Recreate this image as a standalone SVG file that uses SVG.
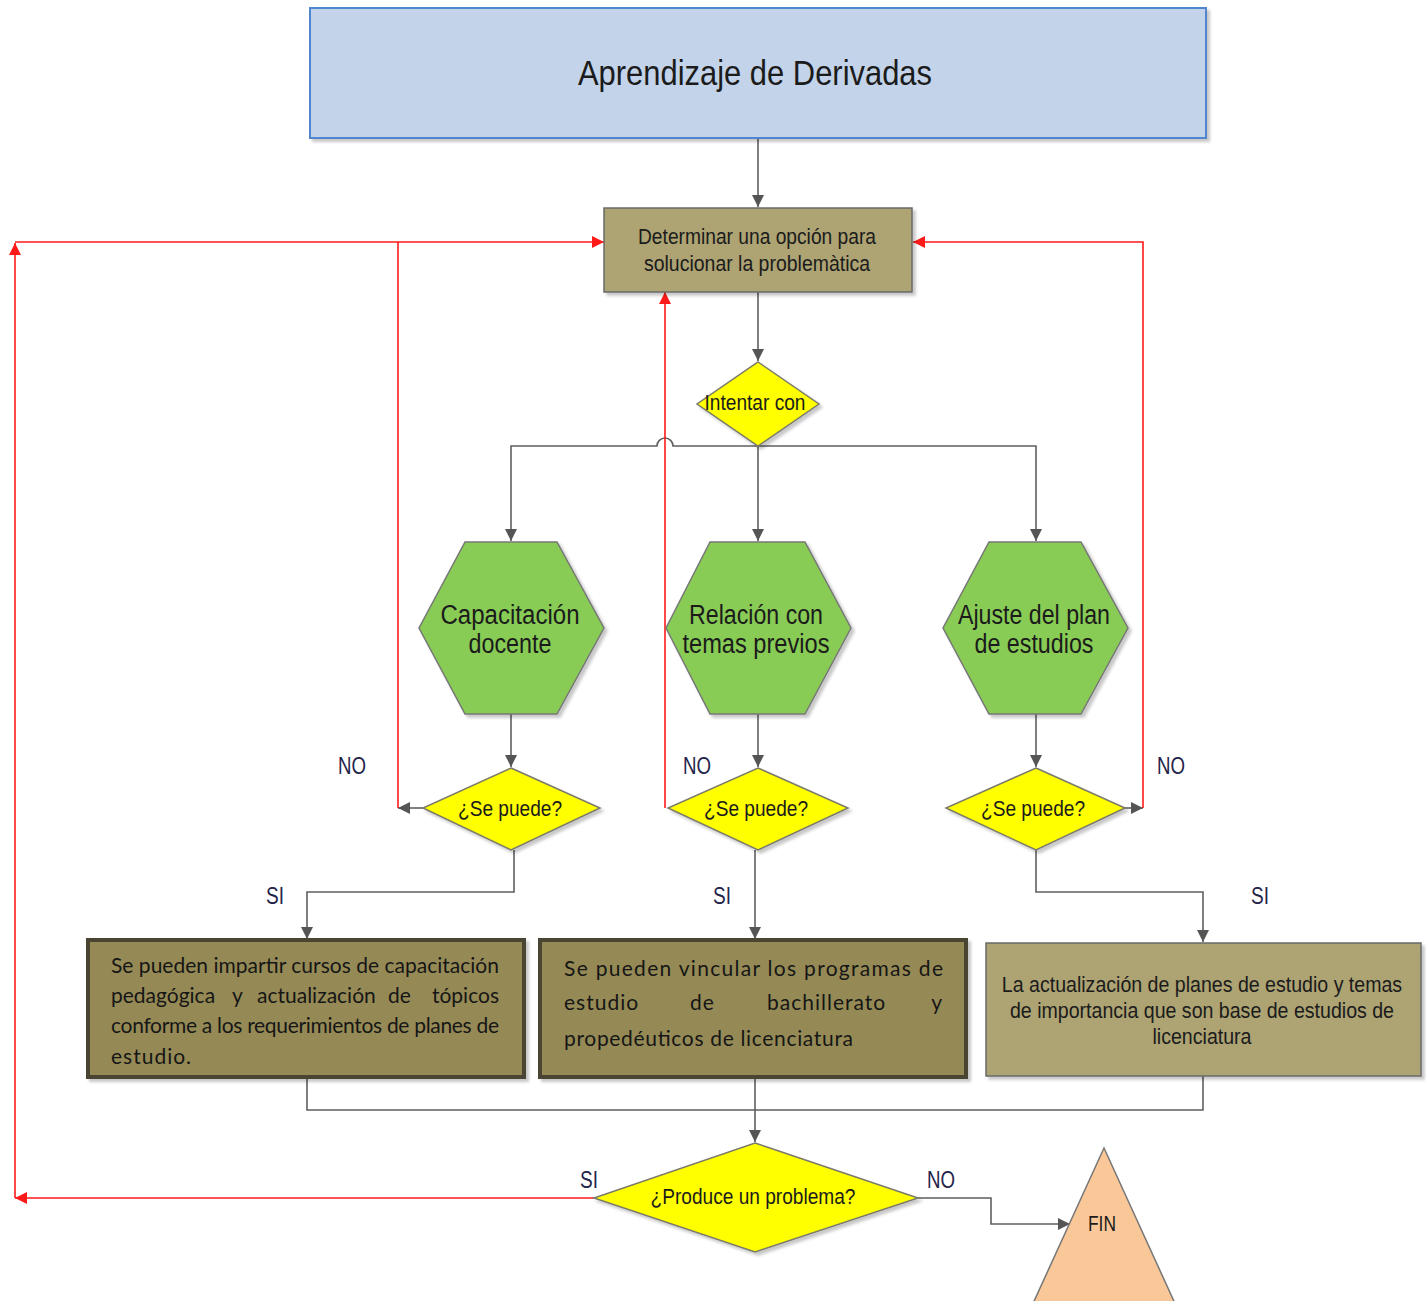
<svg xmlns="http://www.w3.org/2000/svg" width="1426" height="1301" viewBox="0 0 1426 1301">
  <defs>
    <style>
      .nar { font-family: "Liberation Sans Narrow", "Liberation Sans", Arial, sans-serif; fill: #1b1b1b; }
      .mid { text-anchor: middle; }
      .lbl { font-family: "Liberation Sans Narrow", "Liberation Sans", Arial, sans-serif; font-size: 23px; fill: #24244a; text-anchor: middle; }
      .body { font-family: Lato, "Open Sans", "Liberation Sans", sans-serif; font-size: 21px; fill: #161616; }
      .gray { fill: none; stroke: #5f5f5f; stroke-width: 1.6; }
      .red { fill: none; stroke: #ff1a1a; stroke-width: 1.6; }
      .dia { fill: #ffff00; stroke: #7a7a6a; stroke-width: 1.5; }
      .hex { fill: #88cc55; stroke: #777777; stroke-width: 1.5; }
      .proc { fill: #ada373; stroke: #6a6a6a; stroke-width: 1.5; }
      .heavy { fill: #958a55; stroke: #4a4430; stroke-width: 4; }
    </style>
    <marker id="ag" viewBox="0 0 10 10" refX="10" refY="5" markerWidth="12" markerHeight="12" markerUnits="userSpaceOnUse" orient="auto">
      <path d="M0,0 L10,5 L0,10 z" fill="#555555"/>
    </marker>
    <marker id="ar" viewBox="0 0 10 10" refX="10" refY="5" markerWidth="12" markerHeight="12" markerUnits="userSpaceOnUse" orient="auto">
      <path d="M0,0 L10,5 L0,10 z" fill="#ff1a1a"/>
    </marker>
    <filter id="sh" x="-10%" y="-10%" width="130%" height="130%">
      <feDropShadow dx="3" dy="3" stdDeviation="1.5" flood-color="#000000" flood-opacity="0.22"/>
    </filter>
  </defs>

  <rect width="1426" height="1301" fill="#ffffff"/>

  <!-- connectors -->
  <g id="connectors">
    <path class="gray" d="M758,138 V207" marker-end="url(#ag)"/>
    <path class="gray" d="M758,292 V361" marker-end="url(#ag)"/>
    <path class="gray" d="M758,446 V541" marker-end="url(#ag)"/>
    <path class="gray" d="M758,446 H673 A8,8 0 0 0 657,446 H511 V541" marker-end="url(#ag)"/>
    <path class="gray" d="M758,446 H1036 V541" marker-end="url(#ag)"/>
    <path class="gray" d="M511,714 V767" marker-end="url(#ag)"/>
    <path class="gray" d="M758,714 V767" marker-end="url(#ag)"/>
    <path class="gray" d="M1036,714 V767" marker-end="url(#ag)"/>
    <path class="gray" d="M423,808 H398" marker-end="url(#ag)"/>
    <path class="gray" d="M1125,808 H1143" marker-end="url(#ag)"/>
    <path class="gray" d="M514,850 V892 H307 V939" marker-end="url(#ag)"/>
    <path class="gray" d="M755,850 V939" marker-end="url(#ag)"/>
    <path class="gray" d="M1036,850 V892 H1203 V942" marker-end="url(#ag)"/>
    <path class="gray" d="M307,1077 V1110 H1203 V1076"/>
    <path class="gray" d="M755,1077 V1142" marker-end="url(#ag)"/>
    <path class="gray" d="M918,1198 H991 V1224 H1070" marker-end="url(#ag)"/>

    <path class="red" d="M594,1198 H15" marker-end="url(#ar)"/>
    <path class="red" d="M15,1198 V243" marker-end="url(#ar)"/>
    <path class="red" d="M15,242 H604" marker-end="url(#ar)"/>
    <path class="red" d="M398,808 V242"/>
    <path class="red" d="M665,808 V292" marker-end="url(#ar)"/>
    <path class="red" d="M1143,808 V242 H913" marker-end="url(#ar)"/>
  </g>

  <!-- title -->
  <g id="titulo">
    <rect x="310" y="8" width="896" height="130" fill="#c2d3ea" stroke="#4f86cf" stroke-width="2" filter="url(#sh)"/>
    <text class="nar mid" x="755" y="85" font-size="35" textLength="354" lengthAdjust="spacingAndGlyphs">Aprendizaje de Derivadas</text>
  </g>

  <g id="determinar">
    <rect class="proc" x="604" y="208" width="308" height="84" filter="url(#sh)"/>
    <text class="nar mid" x="757" y="244" font-size="22" textLength="238" lengthAdjust="spacingAndGlyphs">Determinar una opción para</text>
    <text class="nar mid" x="757" y="271" font-size="22" textLength="226" lengthAdjust="spacingAndGlyphs">solucionar la problemàtica</text>
  </g>

  <g id="intentar">
    <polygon class="dia" points="758,362 819,404 758,446 697,404" filter="url(#sh)"/>
    <text class="nar mid" x="755" y="410" font-size="22" textLength="101" lengthAdjust="spacingAndGlyphs">Intentar con</text>
  </g>

  <g id="capacitacion">
    <polygon class="hex" points="465,542 557,542 604,628 557,714 465,714 419,628" filter="url(#sh)"/>
    <text class="nar mid" x="510" y="624" font-size="27" textLength="139" lengthAdjust="spacingAndGlyphs">Capacitación</text>
    <text class="nar mid" x="510" y="653" font-size="27" textLength="83" lengthAdjust="spacingAndGlyphs">docente</text>
  </g>

  <g id="relacion">
    <polygon class="hex" points="710,542 805,542 851,628 805,714 710,714 666,628" filter="url(#sh)"/>
    <text class="nar mid" x="756" y="624" font-size="27" textLength="134" lengthAdjust="spacingAndGlyphs">Relación con</text>
    <text class="nar mid" x="756" y="653" font-size="27" textLength="147" lengthAdjust="spacingAndGlyphs">temas previos</text>
  </g>

  <g id="ajuste">
    <polygon class="hex" points="989,542 1081,542 1128,628 1081,714 989,714 943,628" filter="url(#sh)"/>
    <text class="nar mid" x="1034" y="624" font-size="27" textLength="152" lengthAdjust="spacingAndGlyphs">Ajuste del plan</text>
    <text class="nar mid" x="1034" y="653" font-size="27" textLength="119" lengthAdjust="spacingAndGlyphs">de estudios</text>
  </g>

  <g id="sepuede1">
    <polygon class="dia" points="511,768 600,808 511,850 423,808" filter="url(#sh)"/>
    <text class="nar mid" x="510" y="816" font-size="22" textLength="104" lengthAdjust="spacingAndGlyphs">¿Se puede?</text>
  </g>
  <g id="sepuede2">
    <polygon class="dia" points="758,768 848,808 758,850 668,808" filter="url(#sh)"/>
    <text class="nar mid" x="756" y="816" font-size="22" textLength="104" lengthAdjust="spacingAndGlyphs">¿Se puede?</text>
  </g>
  <g id="sepuede3">
    <polygon class="dia" points="1036,768 1125,808 1036,850 946,808" filter="url(#sh)"/>
    <text class="nar mid" x="1033" y="816" font-size="22" textLength="104" lengthAdjust="spacingAndGlyphs">¿Se puede?</text>
  </g>

  <!-- branch labels -->
  <g id="etiquetas">
    <text class="lbl" x="352" y="774" textLength="28" lengthAdjust="spacingAndGlyphs">NO</text>
    <text class="lbl" x="697" y="774" textLength="28" lengthAdjust="spacingAndGlyphs">NO</text>
    <text class="lbl" x="1171" y="774" textLength="28" lengthAdjust="spacingAndGlyphs">NO</text>
    <text class="lbl" x="275" y="904" textLength="18" lengthAdjust="spacingAndGlyphs">SI</text>
    <text class="lbl" x="722" y="904" textLength="18" lengthAdjust="spacingAndGlyphs">SI</text>
    <text class="lbl" x="1260" y="904" textLength="18" lengthAdjust="spacingAndGlyphs">SI</text>
    <text class="lbl" x="589" y="1188" textLength="18" lengthAdjust="spacingAndGlyphs">SI</text>
    <text class="lbl" x="941" y="1188" textLength="28" lengthAdjust="spacingAndGlyphs">NO</text>
  </g>

  <g id="cursos">
    <rect class="heavy" x="88" y="940" width="436" height="137" filter="url(#sh)"/>
    <text class="body" x="111" y="973" textLength="388" lengthAdjust="spacing">Se pueden impartir cursos de capacitación</text>
    <text class="body" y="1003"><tspan x="111">pedagógica</tspan><tspan x="232">y</tspan><tspan x="257">actualización</tspan><tspan x="388">de</tspan><tspan x="499" text-anchor="end">tópicos</tspan></text>
    <text class="body" x="111" y="1033" textLength="388" lengthAdjust="spacing">conforme a los requerimientos de planes de</text>
    <text class="body" x="111" y="1064" letter-spacing="1">estudio.</text>
  </g>

  <g id="vincular">
    <rect class="heavy" x="540" y="940" width="426" height="137" filter="url(#sh)"/>
    <text class="body" x="564" y="976" fill="#2a2a2a" textLength="379" lengthAdjust="spacing">Se pueden vincular los programas de</text>
    <text class="body" y="1010" fill="#2a2a2a" letter-spacing="1"><tspan x="564">estudio</tspan><tspan x="690">de</tspan><tspan x="767">bachillerato</tspan><tspan x="943" text-anchor="end">y</tspan></text>
    <text class="body" x="564" y="1046" fill="#2a2a2a" textLength="289" lengthAdjust="spacing">propedéuticos de licenciatura</text>
  </g>

  <g id="actualizacion">
    <rect class="proc" x="986" y="943" width="435" height="133" filter="url(#sh)"/>
    <!-- condensed lines: horizontal squeeze keeps them inside the box -->
    <g transform="translate(1202,0) scale(0.89,1)">
      <text class="nar mid" x="0" y="992" font-size="22">La actualización de planes de estudio y temas</text>
      <text class="nar mid" x="0" y="1018" font-size="22">de importancia que son base de estudios de</text>
      <text class="nar mid" x="0" y="1044" font-size="22">licenciatura</text>
    </g>
  </g>

  <g id="problema">
    <polygon class="dia" points="755,1143 918,1198 755,1252 594,1198" filter="url(#sh)"/>
    <text class="nar mid" x="753" y="1204" font-size="22" textLength="205" lengthAdjust="spacingAndGlyphs">¿Produce un problema?</text>
  </g>

  <g id="fin">
    <polygon points="1104,1148 1178,1310 1030,1310" fill="#fac898" stroke="#777777" stroke-width="1.5"/>
    <text class="nar mid" x="1102" y="1231" font-size="22" textLength="28" lengthAdjust="spacingAndGlyphs">FIN</text>
  </g>
</svg>
